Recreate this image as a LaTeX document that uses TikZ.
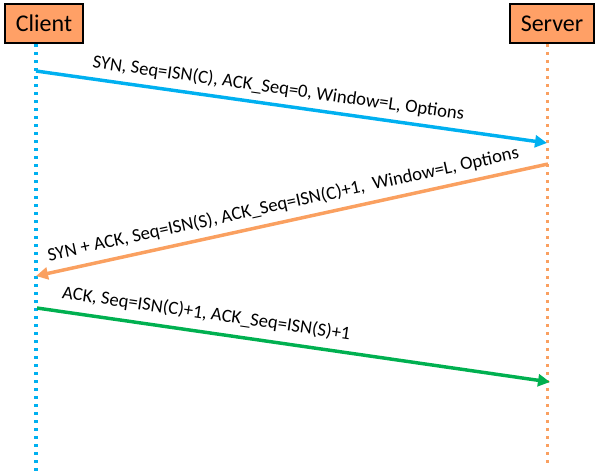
\documentclass[tikz,border=0pt]{standalone}
\usepackage{fontspec}
\setmainfont{Carlito}
\usepackage{tikz}
\usetikzlibrary{arrows.meta,positioning}

\definecolor{hostfill}{RGB}{255,160,102}
\definecolor{lifeorange}{RGB}{250,160,96}
\definecolor{lifeblue}{RGB}{0,176,240}
\definecolor{msggreen}{RGB}{0,176,80}

\tikzset{
  host/.style={draw=black, line width=1.5pt, fill=hostfill, font=\fontsize{18}{20}\selectfont,
    minimum height=29.25pt, inner sep=0pt},
  lifeline/.style={line width=2.4pt, dash pattern=on 2.6pt off 3.4pt},
  msg/.style={line width=2.6pt, -{Triangle[length=9pt,width=9pt]}},
  msglabel/.style={font=\fontsize{14}{16}\selectfont, sloped, above, black}
}

\begin{document}
\begin{tikzpicture}[x=0.75pt, y=-0.75pt]
  \useasboundingbox (0,0) rectangle (598,475);

  % hosts
  \node[host, minimum width=58.5pt] (client) at (44,23.5) {Client};
  \node[host, minimum width=63pt] (server) at (552,23.5) {Server};

  % lifelines
  \coordinate (cbot) at (36,472);
  \coordinate (sbot) at (547.5,463);
  \draw[lifeline, lifeblue] (client.south -| cbot) -- (cbot);
  \draw[lifeline, lifeorange] (server.south -| sbot) -- (sbot);

  % message ends
  \coordinate (c1) at (36,71);
  \coordinate (s1) at (547,143);
  \coordinate (s2) at (548,164);
  \coordinate (c2) at (36,276);
  \coordinate (c3) at (37,308);
  \coordinate (s3) at (550,382);

  \path[msg, lifeblue]
  (c1) edge node[msglabel, pos=0.47, yshift=1.5pt] {SYN, Seq=ISN(C), ACK\_Seq=0, Window=L, Options} (s1)
  ;
  \path[msg, lifeorange]
  (s2) edge node[msglabel, pos=0.51, yshift=2pt] {SYN + ACK, Seq=ISN(S), ACK\_Seq=ISN(C)+1, \ Window=L, Options} (c2)
  ;
  \path[msg, msggreen]
  (c3) edge node[msglabel, pos=0.325, yshift=3pt] {ACK, Seq=ISN(C)+1, ACK\_Seq=ISN(S)+1} (s3)
  ;
\end{tikzpicture}
\end{document}
